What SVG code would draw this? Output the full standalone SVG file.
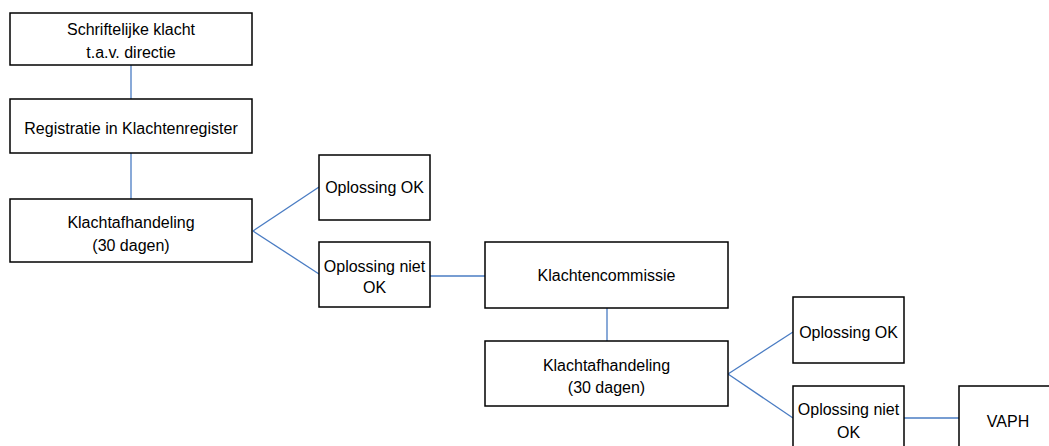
<svg xmlns="http://www.w3.org/2000/svg" width="1049" height="446" viewBox="0 0 1049 446">
<style>
.box{fill:#fff;stroke:#000;stroke-width:1.5}
.t{font-family:"Liberation Sans",Arial,sans-serif;font-size:16px;fill:#000;text-anchor:middle}
.c{stroke:#4a7cc3;stroke-width:1.3;fill:none}
</style>
<rect width="1049" height="446" fill="#fff"/>
<g id="connectors">
<line class="c" x1="131" y1="65" x2="131" y2="99"/>
<line class="c" x1="131" y1="153" x2="131" y2="199"/>
<line class="c" x1="253" y1="231" x2="319" y2="187"/>
<line class="c" x1="253" y1="231" x2="319" y2="274"/>
<line class="c" x1="430" y1="276" x2="485" y2="276"/>
<line class="c" x1="607" y1="308" x2="607" y2="341"/>
<line class="c" x1="728" y1="374" x2="793" y2="332"/>
<line class="c" x1="728" y1="374" x2="793" y2="418"/>
<line class="c" x1="904" y1="418" x2="959" y2="418"/>
</g>
<g id="n1"><rect class="box" x="10" y="13" width="242" height="52"/><text class="t" x="131" y="35">Schriftelijke  klacht</text><text class="t" x="131" y="58">t.a.v. directie</text></g>
<g id="n2"><rect class="box" x="10" y="99" width="242" height="54"/><text class="t" x="131" y="134">Registratie in Klachtenregister</text></g>
<g id="n3"><rect class="box" x="10" y="199" width="242" height="63"/><text class="t" x="131" y="228">Klachtafhandeling</text><text class="t" x="131" y="251">(30 dagen)</text></g>
<g id="n4"><rect class="box" x="319" y="155" width="111" height="65"/><text class="t" x="374.5" y="193">Oplossing OK</text></g>
<g id="n5"><rect class="box" x="319" y="242" width="111" height="65"/><text class="t" x="374.5" y="272">Oplossing niet</text><text class="t" x="374.5" y="293">OK</text></g>
<g id="n6"><rect class="box" x="485" y="242" width="243" height="66"/><text class="t" x="606.5" y="281">Klachtencommissie</text></g>
<g id="n7"><rect class="box" x="485" y="341" width="243" height="65"/><text class="t" x="606.5" y="371">Klachtafhandeling</text><text class="t" x="606.5" y="393">(30 dagen)</text></g>
<g id="n8"><rect class="box" x="793" y="297" width="111" height="66"/><text class="t" x="848.5" y="338">Oplossing OK</text></g>
<g id="n9"><rect class="box" x="793" y="386" width="111" height="66"/><text class="t" x="848.5" y="415">Oplossing niet</text><text class="t" x="848.5" y="438">OK</text></g>
<g id="n10"><rect class="box" x="959" y="386" width="98" height="66"/><text class="t" x="1008" y="427">VAPH</text></g>
</svg>
